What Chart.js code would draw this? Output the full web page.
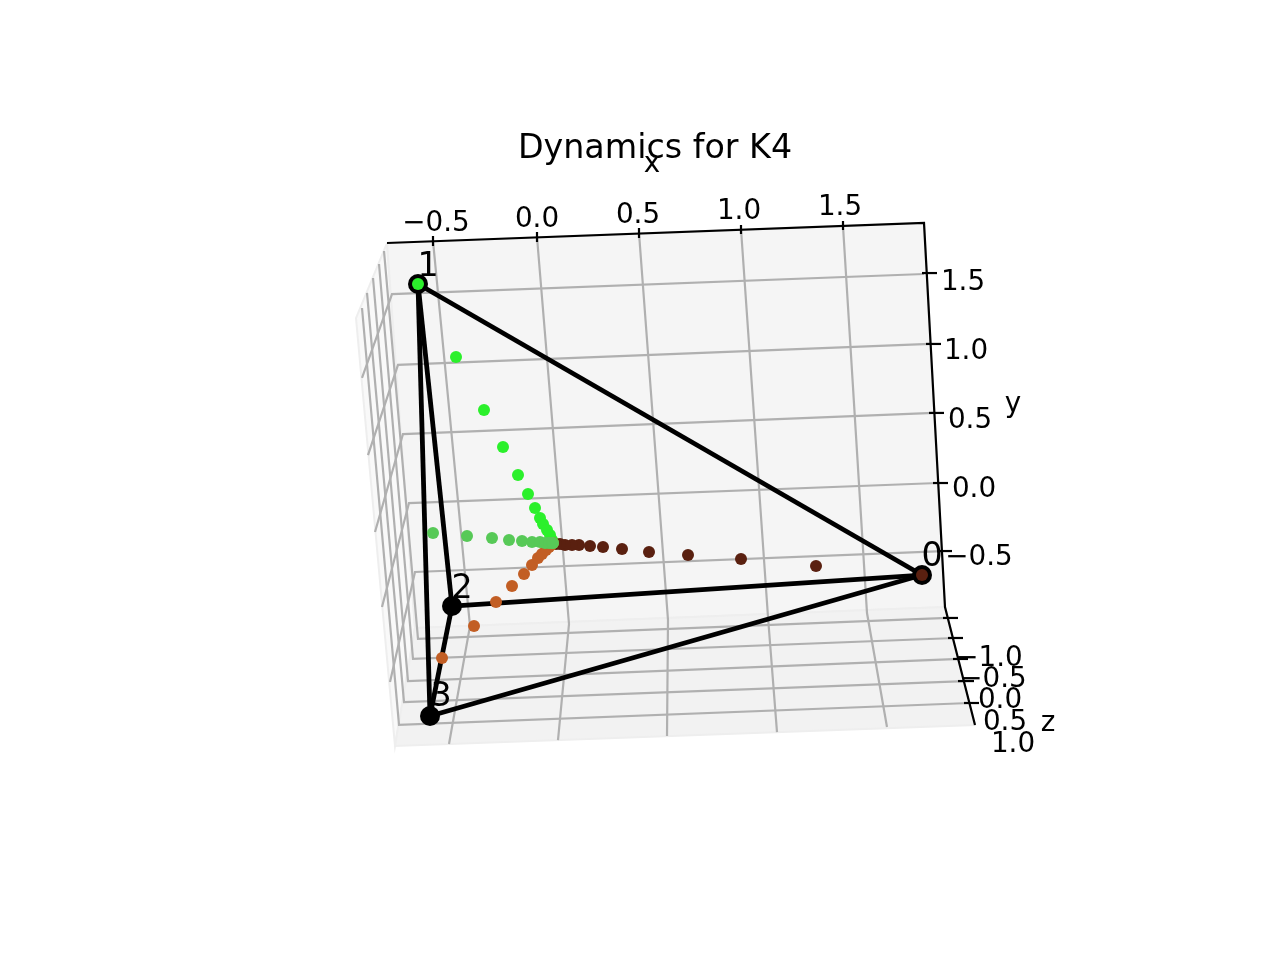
<!DOCTYPE html>
<html>
<head>
<meta charset="utf-8">
<title>Dynamics for K4</title>
<script src="https://cdn.jsdelivr.net/npm/chart.js@4/dist/chart.umd.js"></script>
<style>
    body { margin: 0; background: #fff; }
    canvas { display: block; }
</style>
</head>
<body>
<canvas id="chart" width="1280" height="960"></canvas>
<script>
const nodeNames = ["0", "1", "2", "3"];
const nodeX = [1.91, -0.61, -0.44, -0.55];
const nodeY = [-0.693, 1.429, -0.919, -1.721];
const edges = [[0, 1], [0, 2], [0, 3], [1, 2], [1, 3], [2, 3]];

// Dynamics of each node towards the centre
const brownX = [1.91, 1.38, 1.005, 0.74, 0.545, 0.41, 0.315, 0.25, 0.195, 0.16, 0.125, 0.10, 0.08, 0.065];
const brownY = [-0.693, -0.627, -0.576, -0.547, -0.525, -0.503, -0.489, -0.481, -0.474, -0.474, -0.474, -0.467, -0.467, -0.459];
const limeX = [-0.61, -0.42, -0.28, -0.185, -0.11, -0.06, -0.025, 0.0, 0.015, 0.035, 0.05, 0.06, 0.065];
const limeY = [1.429, 0.897, 0.510, 0.241, 0.036, -0.102, -0.204, -0.277, -0.321, -0.365, -0.401, -0.438, -0.459];
const orangeX = [-0.49, -0.33, -0.22, -0.14, -0.08, -0.04, -0.01, 0.01, 0.03, 0.045, 0.055, 0.065];
const orangeY = [-1.298, -1.065, -0.890, -0.773, -0.685, -0.620, -0.569, -0.540, -0.510, -0.489, -0.474, -0.459];
const greenX = [-0.535, -0.365, -0.24, -0.155, -0.09, -0.04, 0.0, 0.025, 0.045, 0.06, 0.065];
const greenY = [-0.386, -0.408, -0.423, -0.438, -0.445, -0.452, -0.452, -0.459, -0.459, -0.459, -0.459];

// Box panes
const leftPaneX = [-0.765, -0.625, -0.725, -0.92];
const leftPaneY = [1.728, -1.079, -1.940, 1.181];
const backPaneX = [-0.765, 1.92, 2.025, -0.625];
const backPaneY = [1.728, 1.874, -0.926, -1.079];
const floorPaneX = [-0.625, 2.025, 2.175, -0.725];
const floorPaneY = [-1.079, -0.926, -1.786, -1.940];

// Grid lines, each one bends where it goes from one pane to the next
const gridX = [
    [-0.535, -0.35, -0.455], [-0.015, 0.145, 0.09], [0.495, 0.64, 0.635], [1.005, 1.14, 1.185], [1.515, 1.635, 1.735],
    [-0.89, -0.74, 1.92], [-0.86, -0.71, 1.95], [-0.825, -0.685, 1.97], [-0.79, -0.655, 1.99], [-0.75, -0.625, 2.015],
    [-0.78, -0.61, 2.04], [-0.805, -0.635, 2.075], [-0.835, -0.66, 2.10], [-0.865, -0.68, 2.125], [-0.89, -0.705, 2.15]
];
const gridY = [
    [1.743, -1.065, -1.925], [1.772, -1.05, -1.896], [1.801, -1.021, -1.867], [1.830, -0.999, -1.838], [1.852, -0.970, -1.801],
    [0.744, 1.356, 1.502], [0.182, 0.839, 0.992], [-0.379, 0.335, 0.489], [-0.926, -0.168, -0.022], [-1.473, -0.671, -0.518],
    [1.670, -1.159, -1.006], [1.575, -1.305, -1.152], [1.473, -1.466, -1.305], [1.364, -1.619, -1.466], [1.254, -1.786, -1.626]
];

const spineX = [-0.765, 1.92, 2.025, 2.175];
const spineY = [1.728, 1.874, -0.926, -1.786];

// Tick marks
const tickX = [
    [-0.535, -0.535], [-0.015, -0.015], [0.495, 0.495], [1.005, 1.005], [1.515, 1.515],
    [1.91, 1.985], [1.93, 2.005], [1.945, 2.02], [1.965, 2.04], [1.985, 2.06],
    [2.015, 2.09], [2.04, 2.115], [2.065, 2.14], [2.09, 2.17], [2.12, 2.195]
];
const tickY = [
    [1.779, 1.706], [1.808, 1.735], [1.838, 1.765], [1.859, 1.794], [1.889, 1.823],
    [1.509, 1.509], [0.992, 0.992], [0.489, 0.489], [-0.022, -0.022], [-0.518, -0.518],
    [-1.006, -1.006], [-1.152, -1.152], [-1.305, -1.305], [-1.466, -1.466], [-1.626, -1.626]
];

// Tick labels
const xTickLabels = ["−0.5", "0.0", "0.5", "1.0", "1.5"];
const xTickLabelX = [-0.52, -0.015, 0.49, 0.995, 1.50];
const xTickLabelY = [1.869, 1.898, 1.927, 1.956, 1.985];
const yTickLabels = ["1.5", "1.0", "0.5", "0.0", "−0.5"];
const yTickLabelX = [2.115, 2.13, 2.15, 2.17, 2.195];
const yTickLabelY = [1.438, 0.935, 0.432, -0.071, -0.567];
const zTickLabels = ["−1.0", "−0.5", "0.0", "0.5", "1.0"];
const zTickLabelX = [2.245, 2.265, 2.30, 2.325, 2.365];
const zTickLabelY = [-1.303, -1.456, -1.610, -1.770, -1.930];

const axisNames = ["x", "y", "z"];
const axisNameX = [0.56, 2.365, 2.54];
const axisNameY = [2.299, 0.549, -1.777];

const nodeLabelX = [1.96, -0.56, -0.39, -0.495];
const nodeLabelY = [-0.567, 1.548, -0.800, -1.588];

const titleText = "Dynamics for K4";
const titleX = 0.575;
const titleY = 2.408;

const toPoints = (xs, ys) => xs.map((x, i) => ({ x: x, y: ys[i] }));

const lineSet = (points, color, width) => ({
    data: points,
    showLine: true,
    borderColor: color,
    borderWidth: width,
    pointRadius: 0,
    tension: 0,
    fill: false
});

const paneSet = (xs, ys, color) => ({
    data: toPoints(xs.concat(xs[0]), ys.concat(ys[0])),
    showLine: true,
    borderColor: "#eeeeee",
    borderWidth: 2,
    backgroundColor: color,
    pointRadius: 0,
    tension: 0,
    fill: "shape"
});

const dotSet = (xs, ys, color, radius) => ({
    data: toPoints(xs, ys),
    showLine: false,
    backgroundColor: color,
    borderWidth: 0,
    pointRadius: radius
});

const datasets = [
    paneSet(leftPaneX, leftPaneY, "#f9f9f9"),
    paneSet(backPaneX, backPaneY, "#f5f5f5"),
    paneSet(floorPaneX, floorPaneY, "#f2f2f2")
];

gridX.forEach((xs, i) => datasets.push(lineSet(toPoints(xs, gridY[i]), "#b0b0b0", 2.2)));
datasets.push(lineSet(toPoints(spineX, spineY), "#000000", 2.2));
tickX.forEach((xs, i) => datasets.push(lineSet(toPoints(xs, tickY[i]), "#000000", 2.2)));

edges.forEach(([a, b]) => {
    datasets.push(lineSet(toPoints([nodeX[a], nodeX[b]], [nodeY[a], nodeY[b]]), "#000000", 4.8));
});
datasets.push(dotSet(nodeX, nodeY, "#000000", 10));

datasets.push(dotSet(brownX, brownY, "#5a2010", 6));
datasets.push(dotSet(limeX, limeY, "#2bf02b", 6));
datasets.push(dotSet(orangeX, orangeY, "#c25e24", 6));
datasets.push(dotSet(greenX, greenY, "#57c957", 6));

// First dataset has to be painted first
datasets.forEach((set, i) => { set.order = -i; });

// The box is not a normal axis so its texts are put through the scales by hand
const boxTexts = {
    id: "boxTexts",
    afterDatasetsDraw(chart) {
        const { ctx, scales } = chart;
        const put = (text, x, y, size) => {
            ctx.font = size + 'px "DejaVu Sans"';
            ctx.fillText(text, scales.x.getPixelForValue(x), scales.y.getPixelForValue(y));
        };

        ctx.save();
        ctx.fillStyle = "#000000";
        ctx.textAlign = "center";
        ctx.textBaseline = "middle";

        xTickLabels.forEach((t, i) => put(t, xTickLabelX[i], xTickLabelY[i], 27.8));
        yTickLabels.forEach((t, i) => put(t, yTickLabelX[i], yTickLabelY[i], 27.8));
        zTickLabels.forEach((t, i) => put(t, zTickLabelX[i], zTickLabelY[i], 27.8));
        axisNames.forEach((t, i) => put(t, axisNameX[i], axisNameY[i], 27.8));
        nodeNames.forEach((t, i) => put(t, nodeLabelX[i], nodeLabelY[i], 33.3));
        put(titleText, titleX, titleY, 33.3);

        ctx.restore();
    }
};

new Chart(document.getElementById("chart"), {
    type: "scatter",
    data: { datasets: datasets },
    plugins: [boxTexts],
    options: {
        responsive: false,
        animation: false,
        devicePixelRatio: 1,
        layout: { padding: 0, autoPadding: false },
        plugins: {
            legend: { display: false },
            tooltip: { enabled: false }
        },
        scales: {
            x: { type: "linear", display: false, min: -2.7, max: 3.7 },
            y: { type: "linear", display: false, min: -3.5, max: 3.5 }
        }
    }
});
</script>
</body>
</html>
